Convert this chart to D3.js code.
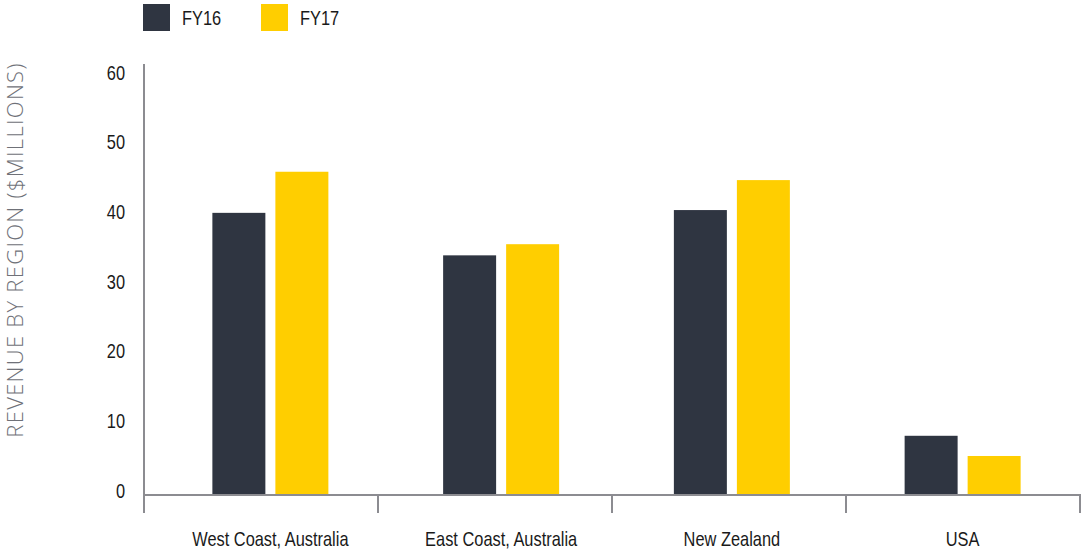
<!DOCTYPE html>
<html>
<head>
<meta charset="utf-8">
<script src="https://cdn.jsdelivr.net/npm/d3@7"></script>
<style>
    body { margin: 0; background: #fff; }
    text { font-family: 'Liberation Sans', Arial, sans-serif; }
</style>
</head>
<body>
<div class="answer-grid"></div>
<script>
// Data.
const regions = ['West Coast, Australia', 'East Coast, Australia', 'New Zealand', 'USA'];
const series = ['FY16', 'FY17'];
const fy16 = [40.5, 34.4, 40.9, 8.5];
const fy17 = [46.4, 36.0, 45.2, 5.6];
const yTicks = [0, 10, 20, 30, 40, 50, 60];

// Colours.
const colours = { FY16: '#2f3541', FY17: '#ffce00' };
const axisCol = '#8c8c91';

// Svg Constants.
const width = 1084, height = 554;
const baseY = 495, topY = 77;
// Horizontal squeeze to get a narrow face out of Liberation Sans.
const narrow = 0.82;

const svg = d3.select('.answer-grid')
                .append('svg')
                .attr('width', width)
                .attr('height', height);

// Scales.
const verScale = d3.scaleLinear()
                    .domain([0, 60])
                    .range([baseY, topY]);
// Axis ticks split the axis in equal parts.
const tickScale = d3.scaleBand()
                    .domain(regions)
                    .range([144, 1080]);
// Bars sit on a slightly narrower band.
const groupScale = d3.scaleBand()
                    .domain(regions)
                    .range([155, 1078]);
const barScale = d3.scaleBand()
                    .domain(series)
                    .range([-58, 58])
                    .paddingInner(0.159);

// Table for the bars.
const rows = [];
regions.forEach((r, i) => {
    rows.push({ region: r, key: 'FY16', value: fy16[i] });
    rows.push({ region: r, key: 'FY17', value: fy17[i] });
});

// Add the Bars.
svg.selectAll('.bar')
    .data(rows)
    .join('rect')
        .attr('class', 'bar')
        .attr('x', d => groupScale(d.region) + groupScale.bandwidth() / 2 + barScale(d.key))
        .attr('y', d => verScale(d.value))
        .attr('width', barScale.bandwidth())
        .attr('height', d => baseY - verScale(d.value))
        .style('fill', d => colours[d.key]);

// Axis lines.
svg.append('line')
    .attr('x1', 144).attr('x2', 144)
    .attr('y1', 64).attr('y2', 513)
    .attr('stroke', axisCol)
    .attr('stroke-width', 2);
svg.append('line')
    .attr('x1', 144).attr('x2', 1081)
    .attr('y1', baseY).attr('y2', baseY)
    .attr('stroke', axisCol)
    .attr('stroke-width', 2);

// Category tick marks.
const edges = regions.map(r => tickScale(r)).concat([tickScale.range()[1]]);
svg.selectAll('.xtick')
    .data(edges)
    .join('line')
        .attr('class', 'xtick')
        .attr('x1', d => d).attr('x2', d => d)
        .attr('y1', baseY).attr('y2', 513)
        .attr('stroke', axisCol)
        .attr('stroke-width', 2);

// Category labels.
svg.selectAll('.xlab')
    .data(regions)
    .join('text')
        .attr('class', 'xlab')
        .attr('transform', d => `translate(${groupScale(d) + groupScale.bandwidth() / 2},546) scale(${narrow},1)`)
        .attr('text-anchor', 'middle')
        .attr('font-size', '20px')
        .attr('fill', '#1a1a1a')
        .text(d => d);

// Y tick labels.
svg.selectAll('.ylab')
    .data(yTicks)
    .join('text')
        .attr('class', 'ylab')
        .attr('transform', d => `translate(125,${verScale(d) - 4.5}) scale(${narrow},1)`)
        .attr('dy', '0.35em')
        .attr('text-anchor', 'end')
        .attr('font-size', '20px')
        .attr('fill', '#1a1a1a')
        .text(d => d);

// Y axis title.
svg.append('text')
    .attr('transform', 'translate(23,250) rotate(-90)')
    .attr('text-anchor', 'middle')
    .attr('font-size', '22px')
    .attr('font-weight', 300)
    .attr('letter-spacing', '1.3px')
    .attr('fill', '#6f7178')
    .style('font-family', "'Open Sans', sans-serif")
    .text('REVENUE BY REGION ($MILLIONS)');

// Legend.
const legend = svg.selectAll('.legend')
    .data(series)
    .join('g')
        .attr('class', 'legend')
        .attr('transform', (d, i) => `translate(${143 + i * 118},4)`);
legend.append('rect')
    .attr('width', 27)
    .attr('height', 27)
    .style('fill', d => colours[d]);
legend.append('text')
    .attr('transform', 'translate(39,14) scale(0.78,1)')
    .attr('dy', '0.35em')
    .attr('font-size', '21px')
    .attr('fill', '#1a1a1a')
    .text(d => d);
</script>
</body>
</html>
